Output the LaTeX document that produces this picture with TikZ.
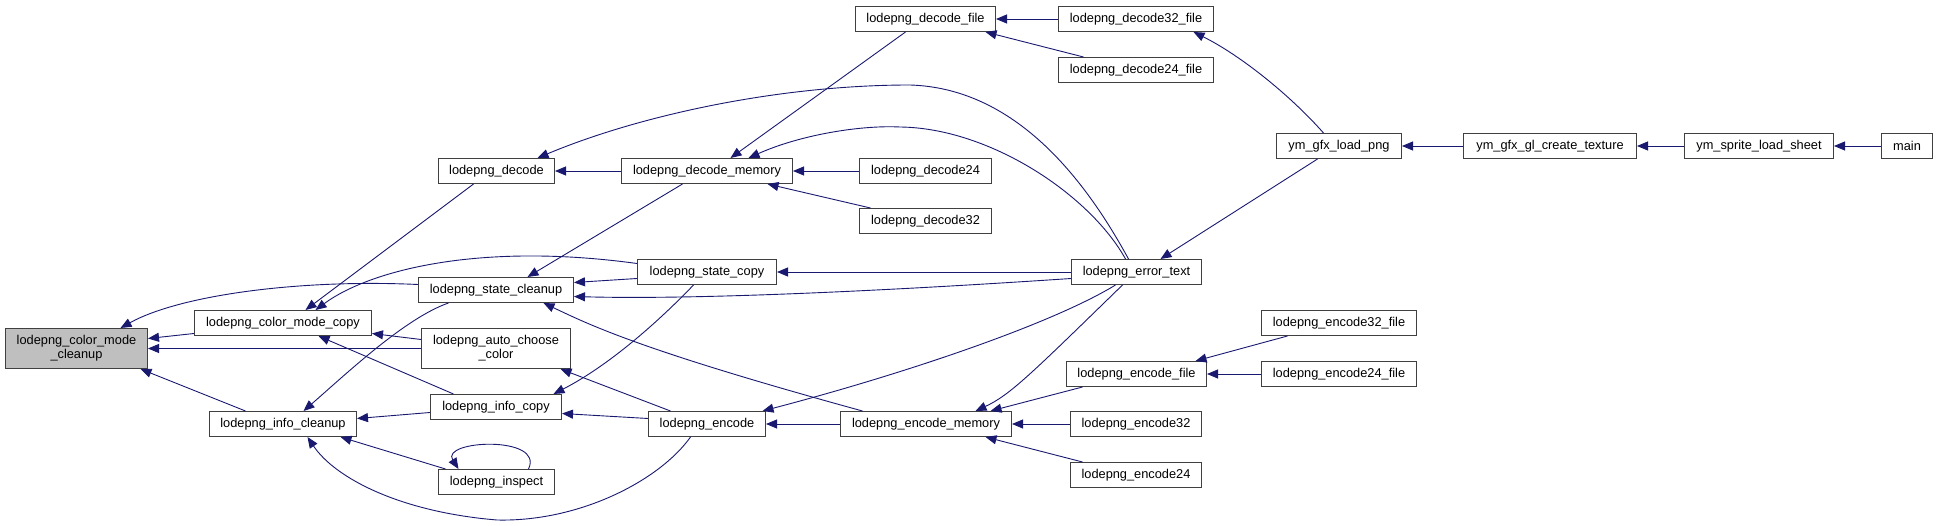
\documentclass[tikz,border=0pt]{standalone}
\usepackage{fontspec}
\setmainfont{Liberation Sans}
\usetikzlibrary{arrows.meta}
\definecolor{edgecol}{RGB}{25,25,112}
\definecolor{boxborder}{RGB}{64,64,64}
\definecolor{hlfill}{RGB}{191,191,191}
\tikzset{
  fnode/.style={draw=boxborder, line width=1pt, fill=white, inner sep=0pt,
    minimum height=25pt, anchor=north west, text=black,
    font=\fontsize{12.8}{14}\selectfont},
  fnodetwo/.style={fnode, minimum height=40pt, align=center},
  cedge/.style={draw=edgecol, line width=0.9pt, {Triangle[length=11pt,width=9pt]}-},
}
\begin{document}
\begin{tikzpicture}[x=1pt,y=-1pt]
\useasboundingbox (0,0) rectangle (1937,526);
% nodes
\node[fnodetwo, minimum width=142pt, fill=hlfill] (cmc) at (5,328) {lodepng\_color\_mode\\\_cleanup};
\node[fnode, minimum width=177pt] (copy) at (194,310) {lodepng\_color\_mode\_copy};
\node[fnode, minimum width=147pt] (infcl) at (209,411) {lodepng\_info\_cleanup};
\node[fnode, minimum width=116pt] (decode) at (438,158) {lodepng\_decode};
\node[fnode, minimum width=171pt] (decmem) at (621,158) {lodepng\_decode\_memory};
\node[fnode, minimum width=139pt] (stcopy) at (637,259) {lodepng\_state\_copy};
\node[fnode, minimum width=155pt] (stcl) at (418,277) {lodepng\_state\_cleanup};
\node[fnodetwo, minimum width=149pt] (auto) at (421,328) {lodepng\_auto\_choose\\\_color};
\node[fnode, minimum width=131pt] (infcopy) at (430,394) {lodepng\_info\_copy};
\node[fnode, minimum width=117pt] (encode) at (648,411) {lodepng\_encode};
\node[fnode, minimum width=116pt] (inspect) at (438,469) {lodepng\_inspect};
\node[fnode, minimum width=140pt] (decfile) at (855,6) {lodepng\_decode\_file};
\node[fnode, minimum width=155pt] (dec32f) at (1058,6) {lodepng\_decode32\_file};
\node[fnode, minimum width=155pt] (dec24f) at (1058,57) {lodepng\_decode24\_file};
\node[fnode, minimum width=132pt] (dec24) at (859,158) {lodepng\_decode24};
\node[fnode, minimum width=132pt] (dec32) at (859,208) {lodepng\_decode32};
\node[fnode, minimum width=130pt] (errtext) at (1071,259) {lodepng\_error\_text};
\node[fnode, minimum width=140pt] (encfile) at (1066,361) {lodepng\_encode\_file};
\node[fnode, minimum width=171pt] (encmem) at (840,411) {lodepng\_encode\_memory};
\node[fnode, minimum width=131pt] (enc32) at (1070,411) {lodepng\_encode32};
\node[fnode, minimum width=131pt] (enc24) at (1070,462) {lodepng\_encode24};
\node[fnode, minimum width=155pt] (enc32f) at (1261,310) {lodepng\_encode32\_file};
\node[fnode, minimum width=155pt] (enc24f) at (1261,361) {lodepng\_encode24\_file};
\node[fnode, minimum width=125pt] (loadpng) at (1276,133) {ym\_gfx\_load\_png};
\node[fnode, minimum width=173pt] (texture) at (1463,133) {ym\_gfx\_gl\_create\_texture};
\node[fnode, minimum width=149pt] (sheet) at (1684,133) {ym\_sprite\_load\_sheet};
\node[fnode, minimum width=51pt] (main) at (1881,133) {main};
% edges (arrow at callee)
\draw[cedge] ([xshift=44pt]cmc.north) .. controls (180,295) and (300,279) .. ([yshift=5.5pt]stcl.west);
\draw[cedge] ([yshift=10pt]cmc.east) -- ([yshift=-10.5pt]copy.west);
\draw[cedge] (cmc.east) -- (auto.west);
\draw[cedge] ([xshift=64pt]cmc.south) -- ([xshift=-37.5pt]infcl.north);
\draw[cedge] ([xshift=22.5pt]copy.north) -- ([xshift=-23pt]decode.south);
\draw[cedge] ([xshift=32.5pt]copy.north) .. controls (370,270) and (480,242) .. ([yshift=8.5pt]stcopy.west);
\draw[cedge] ([yshift=-10.5pt]copy.east) -- ([yshift=9pt]auto.west);
\draw[cedge] ([xshift=35.5pt]copy.south) -- ([xshift=-42.5pt]infcopy.north);
\draw[cedge] ([xshift=20.5pt]infcl.north) .. controls (345,375) and (405,318) .. ([xshift=-47.5pt]stcl.south);
\draw[cedge] ([yshift=5.5pt]infcl.east) -- ([yshift=-5.5pt]infcopy.west);
\draw[cedge] ([xshift=57.5pt]infcl.south) -- ([xshift=-51pt]inspect.north);
\draw[cedge] ([xshift=24.5pt]infcl.south) .. controls (335,478) and (400,512) .. (497,520) .. controls (580,522) and (660,480) .. ([xshift=-16.5pt]encode.south);
\draw[cedge] ([xshift=31.5pt]stcl.north) -- ([xshift=-24.5pt]decmem.south);
\draw[cedge] ([yshift=7.5pt]stcl.east) -- ([yshift=-6.5pt]stcopy.west);
\draw[cedge] ([yshift=-6.5pt]stcl.east) .. controls (700,300) and (900,290) .. ([yshift=-6.5pt]errtext.west);
\draw[cedge] ([xshift=47.5pt]stcl.south) .. controls (590,325) and (640,350) .. ([xshift=-63.5pt]encmem.north);
\draw[cedge] (decode.east) -- (decmem.west);
\draw[cedge] ([xshift=41pt]decode.north) .. controls (640,115) and (780,85) .. (910,85) .. controls (1010,88) and (1080,170) .. ([xshift=-8pt]errtext.north);
\draw[cedge] ([xshift=23.5pt]decmem.north) -- ([xshift=-20pt]decfile.south);
\draw[cedge] ([xshift=41.5pt]decmem.north) .. controls (800,135) and (860,125) .. (900,127) .. controls (990,128) and (1090,195) .. ([xshift=-11pt]errtext.north);
\draw[cedge] (decmem.east) -- (dec24.west);
\draw[cedge] ([xshift=60.5pt]decmem.south) -- ([xshift=-55pt]dec32.north);
\draw[cedge] (decfile.east) -- (dec32f.west);
\draw[cedge] ([xshift=60pt]decfile.south) -- ([xshift=-52.5pt]dec24f.north);
\draw[cedge] ([xshift=57.5pt]dec32f.south) .. controls (1240,55) and (1290,95) .. ([xshift=-15.5pt]loadpng.north);
\draw[cedge] (stcopy.east) -- (errtext.west);
\draw[cedge] ([xshift=57.5pt]infcopy.north) .. controls (610,365) and (660,320) .. ([xshift=-13.5pt]stcopy.south);
\draw[cedge] ([xshift=64.5pt]auto.south) -- ([xshift=-36.5pt]encode.north);
\draw[cedge] ([yshift=-6.5pt]infcopy.east) -- ([yshift=5.5pt]encode.west);
\draw[cedge] ([xshift=-38pt]inspect.north) .. controls (440,440) and (545,435) .. ([xshift=32pt]inspect.north);
\draw[cedge] (encode.east) -- (encmem.west);
\draw[cedge] ([xshift=55.5pt]encode.north) .. controls (900,375) and (1050,325) .. ([xshift=-21pt]errtext.south);
\draw[cedge] ([xshift=49.5pt]encmem.north) .. controls (1010,395) and (1030,375) .. ([xshift=-14pt]errtext.south);
\draw[cedge] ([xshift=64.5pt]encmem.north) -- ([xshift=-54pt]encfile.south);
\draw[cedge] (encmem.east) -- (enc32.west);
\draw[cedge] ([xshift=59.5pt]encmem.south) -- ([xshift=-53.5pt]enc24.north);
\draw[cedge] ([xshift=59pt]encfile.north) -- ([xshift=-51.5pt]enc32f.south);
\draw[cedge] (encfile.east) -- (enc24f.west);
\draw[cedge] ([xshift=24pt]errtext.north) -- ([xshift=-21.5pt]loadpng.south);
\draw[cedge] (loadpng.east) -- (texture.west);
\draw[cedge] (texture.east) -- (sheet.west);
\draw[cedge] (sheet.east) -- (main.west);
\end{tikzpicture}
\end{document}
